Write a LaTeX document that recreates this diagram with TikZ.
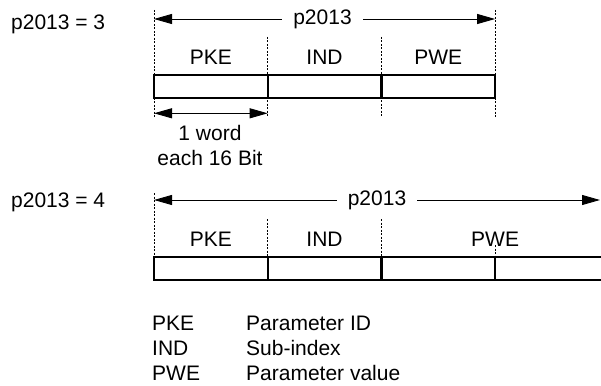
\documentclass[tikz,border=0pt]{standalone}
\usepackage{fontspec}
\setmainfont{Liberation Sans}
\usetikzlibrary{arrows.meta}
\tikzset{
  cell/.style={draw,line width=2.3pt,minimum width=113.7pt,minimum height=23.3pt,
    inner sep=0pt,outer sep=0pt,anchor=north west},
  guide/.style={line width=0.8pt,dash pattern=on 2pt off 1.5pt},
  dim/.style={line width=0.9pt,{Triangle[length=18pt,width=10pt]}-{Triangle[length=18pt,width=10pt]}},
  dimtext/.style={fill=white,inner xsep=11pt,inner ysep=0pt},
  fieldname/.style={anchor=base,inner sep=0pt},
  plain/.style={inner sep=0pt},
}

\begin{document}
\begin{tikzpicture}[x=1pt,y=-1pt,font=\fontsize{21}{25}\selectfont]
  \useasboundingbox (0,0) rectangle (601,385);
  % three words
  \node[plain,anchor=base west] (set3) at (11,30) {p2013 = 3};
  \draw[guide] (154,10) -- (154,117);
  \draw[guide] (267.5,37) -- (267.5,117);
  \draw[guide] (381,37) -- (381,117);
  \draw[guide] (495,10) -- (495,117);
  \node[cell] (pke3) at (154,75) {};
  \node[cell] (ind3) at (pke3.north east) {};
  \node[cell] (pwe3) at (ind3.north east) {};
  \node[fieldname] (pketxt3) at ([yshift=10pt]pke3.north) {PKE};
  \node[fieldname] (indtxt3) at ([yshift=10pt]ind3.north) {IND};
  \node[fieldname] (pwetxt3) at ([yshift=10pt]pwe3.north) {PWE};
  \draw[dim] ([yshift=56pt]pke3.north west) -- node[dimtext,pos=0.494] (len3) {p2013}
    ([yshift=56pt]pwe3.north east);
  \draw[dim] ([yshift=-15pt]pke3.south west) -- ([yshift=-15pt]pke3.south east);
  % base of a multi-line node is its last line
  \node[plain,anchor=base,align=center] (word) at (210,165) {1 word\\each 16 Bit};
  % four words
  \node[plain,anchor=base west] (set4) at (11,207) {p2013 = 4};
  \draw[guide] (154,193) -- (154,257);
  \draw[guide] (267.5,219) -- (267.5,257);
  \draw[guide] (381,219) -- (381,257);
  \draw[guide] (495,245) -- (495,257);
  \node[cell] (pke4) at (154,256.7) {};
  \node[cell] (ind4) at (pke4.north east) {};
  \node[cell] (pwea4) at (ind4.north east) {};
  \node[cell] (pweb4) at (pwea4.north east) {};
  \node[fieldname] (pketxt4) at ([yshift=10pt]pke4.north) {PKE};
  \node[fieldname] (indtxt4) at ([yshift=10pt]ind4.north) {IND};
  \node[fieldname] (pwetxt4) at ([yshift=10pt]pwea4.north east) {PWE};
  \coordinate (end4) at (600,200);
  \draw[dim] ([yshift=56.7pt]pke4.north west) -- node[dimtext] (len4) {p2013} (end4);
  % legend
  \node[plain,anchor=base west,align=left] (keys) at (152,380) {PKE\\IND\\PWE};
  \node[plain,anchor=base west,align=left] (meaning) at (246,380)
    {Parameter ID\\Sub-index\\Parameter value};
\end{tikzpicture}
\end{document}
